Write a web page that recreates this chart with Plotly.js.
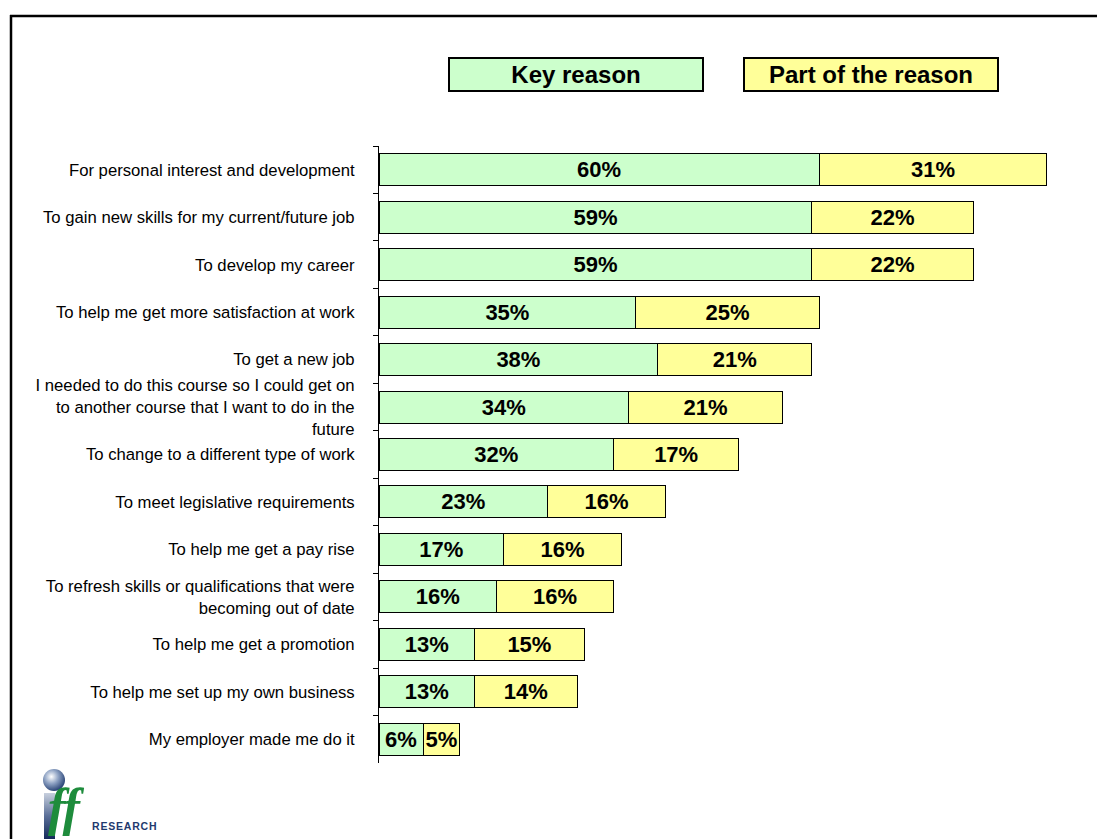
<!DOCTYPE html>
<html>
<head>
<meta charset="utf-8">
<script src="https://cdn.plot.ly/plotly-3.0.1.min.js"></script>
<style>
  html, body { margin: 0; padding: 0; background: #fff; }
  #wrap { position: relative; width: 1106px; height: 839px; overflow: hidden; }
  #chart { position: absolute; left: 0; top: 0; width: 1106px; height: 839px; }
  #overlay { position: absolute; left: 0; top: 0; pointer-events: none; }
</style>
</head>
<body>
<div id="wrap">
  <div id="chart"></div>
  <svg id="overlay" width="1106" height="839" xmlns="http://www.w3.org/2000/svg">
    <defs>
      <radialGradient id="ball" cx="0.38" cy="0.35" r="0.7">
        <stop offset="0" stop-color="#ffffff"/>
        <stop offset="0.45" stop-color="#8fa3c4"/>
        <stop offset="1" stop-color="#1f3a6e"/>
      </radialGradient>
      <linearGradient id="stem" x1="0" y1="0" x2="0" y2="1">
        <stop offset="0" stop-color="#c8d0de"/>
        <stop offset="0.5" stop-color="#5a6f98"/>
        <stop offset="1" stop-color="#142a5a"/>
      </linearGradient>
    </defs>
    <!-- frame -->
    <line x1="10" y1="16" x2="1097" y2="16" stroke="#000" stroke-width="2.5"/>
    <line x1="11" y1="15" x2="11" y2="839" stroke="#000" stroke-width="2.5"/>
    <!-- logo -->
    <circle cx="54" cy="780" r="11" fill="url(#ball)"/>
    <rect x="44" y="793" width="11" height="46" fill="url(#stem)"/>
    <text x="48" y="825" font-family="Liberation Serif, serif" font-style="italic" font-weight="bold" font-size="52" fill="#1e8c3c" letter-spacing="-2">ff</text>
    <text x="92" y="830" font-family="Liberation Sans, Arial, sans-serif" font-weight="bold" font-size="10.5" fill="#1f3a6e" letter-spacing="0.8">RESEARCH</text>
  </svg>
</div>
<script>
// ---- data ----
var categories = [
  "For personal interest and development",
  "To gain new skills for my current/future job",
  "To develop my career",
  "To help me get more satisfaction at work",
  "To get a new job",
  "I needed to do this course so I could get on<br>to another course that I want to do in the<br>future",
  "To change to a different type of work",
  "To meet legislative requirements",
  "To help me get a pay rise",
  "To refresh skills or qualifications that were<br>becoming out of date",
  "To help me get a promotion",
  "To help me set up my own business",
  "My employer made me do it"
];
var keyReason   = [60, 59, 59, 35, 38, 34, 32, 23, 17, 16, 13, 13, 6];
var partReason  = [31, 22, 22, 25, 21, 21, 17, 16, 16, 16, 15, 14, 5];
var seriesNames = ["Key reason", "Part of the reason"];
var seriesColors = ["#CCFFCC", "#FFFF99"];

var FONT = "Liberation Sans, Arial, Helvetica, sans-serif";

function barTrace(vals, idx) {
  return {
    type: "bar",
    orientation: "h",
    name: seriesNames[idx],
    x: vals,
    y: categories,
    marker: { color: seriesColors[idx], line: { color: "#000000", width: 1 } },
    texttemplate: "<b>%{x}%</b>",
    textposition: "inside",
    insidetextanchor: "middle",
    constraintext: "none",
    textangle: 0,
    textfont: { family: FONT, size: 22, color: "#000000" },
    hoverinfo: "skip"
  };
}

var data = [barTrace(keyReason, 0), barTrace(partReason, 1)];

var layout = {
  width: 1106,
  height: 839,
  margin: { l: 379, r: 30, t: 146, b: 76, pad: 0 },
  paper_bgcolor: "#ffffff",
  plot_bgcolor: "#ffffff",
  barmode: "stack",
  bargap: 0.326,
  showlegend: false,
  font: { family: FONT, color: "#000000" },
  xaxis: {
    range: [0, 95],
    visible: false,
    fixedrange: true
  },
  yaxis: {
    type: "category",
    autorange: "reversed",
    showline: true,
    linecolor: "#000000",
    linewidth: 1,
    ticks: "outside",
    tickson: "boundaries",
    ticklen: 5,
    tickcolor: "#000000",
    tickwidth: 1,
    showgrid: false,
    zeroline: false,
    ticklabelstandoff: 20,
    tickfont: { family: FONT, size: 16.7, color: "#000000" },
    fixedrange: true
  },
  annotations: [
    {
      xref: "paper", yref: "paper",
      x: (575.5 - 379) / 697, y: (763 - 74.5) / 617,
      xanchor: "center", yanchor: "middle",
      text: "<b>" + seriesNames[0] + "</b>",
      showarrow: false,
      font: { family: FONT, size: 24, color: "#000000" },
      bgcolor: seriesColors[0],
      bordercolor: "#000000",
      borderwidth: 2,
      borderpad: 0,
      width: 252,
      height: 31
    },
    {
      xref: "paper", yref: "paper",
      x: (870.5 - 379) / 697, y: (763 - 74.5) / 617,
      xanchor: "center", yanchor: "middle",
      text: "<b>" + seriesNames[1] + "</b>",
      showarrow: false,
      font: { family: FONT, size: 24, color: "#000000" },
      bgcolor: seriesColors[1],
      bordercolor: "#000000",
      borderwidth: 2,
      borderpad: 0,
      width: 252,
      height: 31
    }
  ]
};

Plotly.newPlot("chart", data, layout, { displayModeBar: false, staticPlot: true });
</script>
</body>
</html>
